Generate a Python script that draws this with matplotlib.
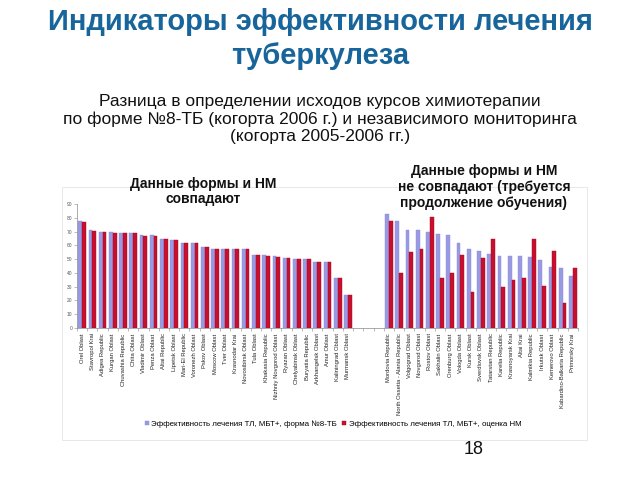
import numpy as np
import matplotlib
matplotlib.use('Agg')
import matplotlib.pyplot as plt
from matplotlib.patches import Rectangle

plt.rcParams['font.family'] = ['Liberation Sans', 'DejaVu Sans']

# Regions where form data and independent monitoring agree
regions_match = ['Orel Oblast', 'Stavropol Krai', 'Adigea Republic', 'Kurgan Oblast',
                 'Chuvashia Republic', 'Chita Oblast', 'Vladimir Oblast', 'Penza Oblast',
                 'Altai Republic', 'Lipetsk Oblast', 'Mari-El Republic', 'Voronezh Oblast',
                 'Pskov Oblast', 'Moscow Oblast', 'Tver Oblast', 'Krasnodar Krai',
                 'Novosibirsk Oblast', 'Tula Oblast', 'Khakasia Republic',
                 'Nizhniy Novgorod Oblast', 'Ryazan Oblast', 'Chelyabinsk Oblast',
                 'Buryatia Republic', 'Arkhangelsk Oblast', 'Amur Oblast',
                 'Kaliningrad Oblast', 'Murmansk Oblast']
form_match = [77.6, 71.0, 69.8, 69.5, 69.0, 69.0, 67.3, 67.3, 64.9, 63.9, 62.0, 62.0,
              59.0, 57.3, 57.3, 57.3, 57.3, 53.2, 52.7, 52.0, 50.7, 50.2, 50.2, 47.8,
              47.8, 36.1, 23.7]
nm_match = [77.4, 70.8, 69.6, 69.3, 68.8, 68.8, 67.1, 67.1, 64.7, 63.7, 61.8, 61.8,
            58.8, 57.1, 57.1, 57.1, 57.1, 53.0, 52.5, 51.8, 50.5, 50.0, 50.0, 47.6,
            47.6, 35.9, 23.5]

# Regions where they do not agree
regions_diff = ['Mordovia Republic', 'North Ossetia - Alania Republic', 'Volgograd Oblast',
                'Novgorod Oblast', 'Rostov Oblast', 'Sakhalin Oblast', 'Orenburg Oblast',
                'Vologda Oblast', 'Kursk Oblast', 'Sverdlovsk Oblast', 'Tatarstan Republic',
                'Karelia Republic', 'Krasnoyarsk Krai', 'Altai Krai', 'Kalmikia Republic',
                'Irkutsk Oblast', 'Kemerovo Oblast', 'Kabardino-Balkaria Republic',
                'Primorsky Krai']
form_diff = [82.9, 77.6, 71.0, 71.0, 69.8, 68.0, 67.6, 61.7, 57.6, 55.9, 53.9, 52.0,
             52.0, 52.0, 51.2, 49.3, 44.6, 43.9, 38.0]
nm_diff = [77.8, 39.8, 55.1, 57.3, 81.0, 36.1, 39.8, 53.2, 26.3, 50.5, 64.4, 29.8,
           34.9, 36.6, 64.9, 30.7, 55.9, 18.0, 43.4]

gap = ['', '', '']
labels = regions_match + gap + regions_diff
form_vals = form_match + [np.nan] * len(gap) + form_diff
nm_vals = nm_match + [np.nan] * len(gap) + nm_diff

y_ticks = list(range(0, 100, 10))

blue = '#9a9ae4'
red = '#c8102e'

fig = plt.figure(figsize=(6.4, 4.8), dpi=100)

# light chart frame
fig.patches.append(Rectangle((62 / 640, 1 - 440 / 480), (587 - 62) / 640, (440 - 187) / 480,
                             transform=fig.transFigure, fill=False,
                             edgecolor='#e4e4e4', linewidth=0.6))

ax = fig.add_axes([77 / 640, 1 - 327.7 / 480, (578 - 77) / 640, (327.7 - 204.3) / 480])

x = np.arange(len(labels))
w = 0.37
b1 = ax.bar(x - w / 2, form_vals, w, color=blue, edgecolor='#8a8ad6', linewidth=0.3,
            label='Эффективность лечения ТЛ, МБТ+, форма №8-ТБ')
b2 = ax.bar(x + w / 2, nm_vals, w, color=red, edgecolor='#a00820', linewidth=0.3,
            label='Эффективность лечения ТЛ, МБТ+, оценка НМ')

ax.set_xlim(-0.5, len(labels) - 0.5)
ax.set_ylim(0, 90)
ax.set_yticks(y_ticks)
ax.tick_params(axis='y', labelsize=3.5, labelcolor='#555555', color='#888888',
               length=2, width=0.4, pad=1.5)
ax.set_xticks(x)
ax.set_xticklabels(labels, rotation=90, fontsize=4.2, color='#222222')
ax.set_xticks(np.arange(len(labels) + 1) - 0.5, minor=True)
ax.tick_params(axis='x', which='major', length=0, pad=4)
ax.tick_params(axis='x', which='minor', length=2, width=0.4, color='#888888')

for s in ['top', 'right']:
    ax.spines[s].set_visible(False)
for s in ['left', 'bottom']:
    ax.spines[s].set_color('#888888')
    ax.spines[s].set_linewidth(0.5)

fig.legend(handles=[b1, b2], loc='center', bbox_to_anchor=(333 / 640, 1 - 424 / 480),
           ncol=2, frameon=False, fontsize=5.7, handlelength=0.55, handleheight=0.55,
           handletextpad=0.3, columnspacing=0.6, borderpad=0)

# titles
fig.text(0.5, 1 - 39 / 480, 'Индикаторы эффективности лечения\nтуберкулеза',
         ha='center', va='center', fontsize=21, fontweight='bold', color='#17659a',
         linespacing=1.25)
fig.text(0.5, 1 - 119 / 480,
         'Разница в определении исходов курсов химиотерапии\n'
         'по форме №8-ТБ (когорта 2006 г.) и независимого мониторинга\n'
         '(когорта 2005-2006 гг.)',
         ha='center', va='center', fontsize=12.5, color='#111111', linespacing=1.15)

fig.text(203 / 640, 1 - 191.5 / 480, 'Данные формы и НМ\nсовпадают', ha='center',
         va='center', fontsize=10, fontweight='bold', color='#111111', linespacing=1.17)
fig.text(484 / 640, 1 - 187 / 480,
         'Данные формы и НМ\nне совпадают (требуется\nпродолжение обучения)',
         ha='center', va='center', fontsize=10, fontweight='bold', color='#111111',
         linespacing=1.17)

fig.text(474 / 640, 1 - 450 / 480, '18', ha='center', va='center', fontsize=13,
         color='#111111')

fig.savefig('out.png', dpi=100)
